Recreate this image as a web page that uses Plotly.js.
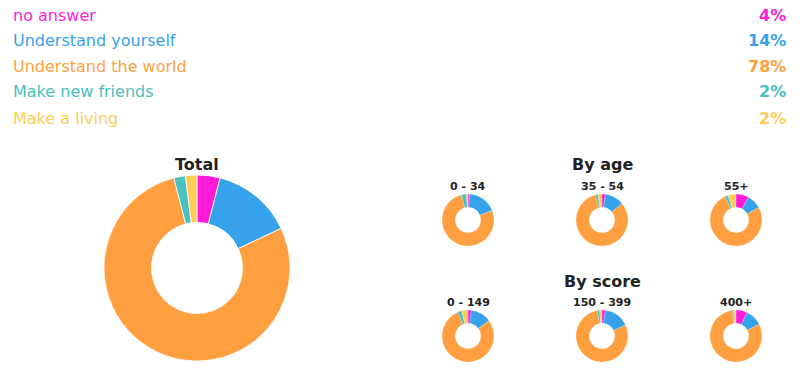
<!DOCTYPE html>
<html>
<head>
<meta charset="utf-8">
<script src="https://cdn.plot.ly/plotly-3.0.1.min.js"></script>
<style>html,body{margin:0;padding:0;background:#fff}#chart{width:800px;height:375px}</style>
</head>
<body>
<div id="chart"></div>
<script>
const categories = ["no answer", "Understand yourself", "Understand the world", "Make new friends", "Make a living"];
const colors = ["#ff1ad9", "#36a2eb", "#ff9f40", "#4bc0c0", "#ffcd56"];
const totalValues = [4, 14, 78, 2, 2];
const totalLabels = ["4%", "14%", "78%", "2%", "2%"];

const ageGroups = ["0 - 34", "35 - 54", "55+"];
const age_0_34 = [1, 18, 77, 3, 1];
const age_35_54 = [2, 12, 82, 1.5, 2.5];
const age_55plus = [8, 9, 76, 2, 5];

const scoreGroups = ["0 - 149", "150 - 399", "400+"];
const score_0_149 = [2, 13, 78.5, 2.5, 4];
const score_150_399 = [2, 16, 79, 1.5, 1.5];
const score_400plus = [7, 10.5, 80, 1, 1.5];

const W = 800, H = 375;
const FONT = "DejaVu Sans";

function pie(values, cx, cy, r, lw) {
  return {
    type: "pie",
    labels: categories,
    values: values,
    sort: false,
    direction: "clockwise",
    rotation: 0,
    hole: 0.49,
    textinfo: "none",
    marker: {colors: colors, line: {color: "#ffffff", width: lw}},
    domain: {x: [(cx - r) / W, (cx + r) / W], y: [1 - (cy + r) / H, 1 - (cy - r) / H]},
    showlegend: false
  };
}

const data = [
  pie(totalValues, 197, 268, 93, 0.8),
  pie(age_0_34, 468, 220, 26, 0.2),
  pie(age_35_54, 602, 220, 26, 0.2),
  pie(age_55plus, 736, 220, 26, 0.2),
  pie(score_0_149, 468, 336, 26, 0.2),
  pie(score_150_399, 602, 336, 26, 0.2),
  pie(score_400plus, 736, 336, 26, 0.2)
];

const annotations = [];
const rowY = [15, 41, 67, 92, 118];
categories.forEach((c, i) => {
  annotations.push({x: 11 / W, y: 1 - rowY[i] / H, xref: "paper", yref: "paper", xanchor: "left", yanchor: "middle",
    text: c, showarrow: false, font: {family: FONT, size: 16, color: colors[i]}});
  annotations.push({x: 788 / W, y: 1 - rowY[i] / H, xref: "paper", yref: "paper", xanchor: "right", yanchor: "middle",
    text: "<b>" + totalLabels[i] + "</b>", showarrow: false, font: {family: FONT, size: 16, color: colors[i]}});
});
function title(t, cx, cy, size) {
  annotations.push({x: cx / W, y: 1 - cy / H, xref: "paper", yref: "paper", xanchor: "center", yanchor: "middle",
    text: "<b>" + t + "</b>", showarrow: false, font: {family: FONT, size: size, color: "#222222"}});
}
title("Total", 197, 165, 16);
title("By age", 602, 165, 16);
title("By score", 602, 281, 16);
ageGroups.forEach((g, i) => title(g, 468 + 134 * i, 186, 11));
scoreGroups.forEach((g, i) => title(g, 468 + 134 * i, 302, 11));

Plotly.newPlot("chart", data, {
  width: W, height: H,
  margin: {l: 0, r: 0, t: 0, b: 0},
  paper_bgcolor: "#ffffff",
  showlegend: false,
  annotations: annotations
}, {displayModeBar: false, staticPlot: true});
</script>
</body>
</html>
